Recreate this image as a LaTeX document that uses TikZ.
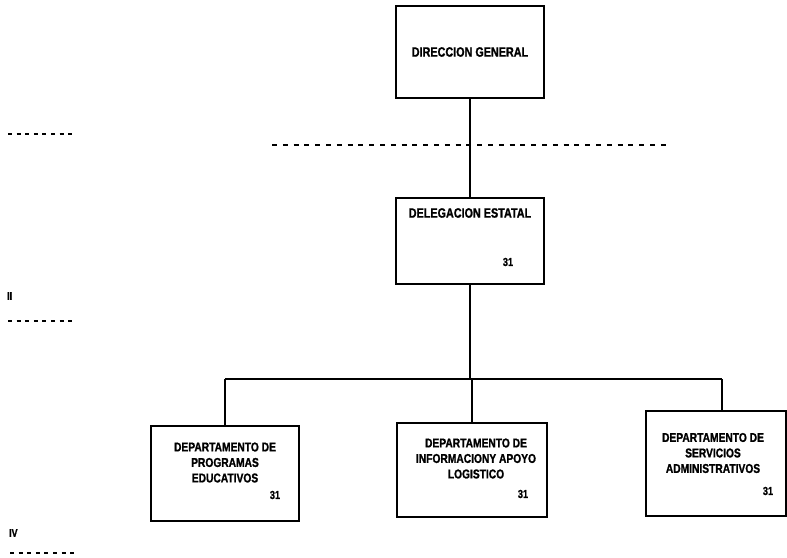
\documentclass[tikz,border=0pt]{standalone}
\usepackage{fontspec}
\setmainfont{Liberation Sans}[FakeStretch=0.8,BoldFeatures={FakeBold=1.2}]
\begin{document}
\begin{tikzpicture}[x=1pt,y=-1pt,
  box/.style={draw,line width=2pt,rectangle,inner sep=0pt},
  wire/.style={line width=2pt},
  lbl/.style={font=\bfseries\fontsize{12.8}{15.5}\selectfont,align=center,inner sep=0pt},
  head/.style={font=\bfseries\fontsize{13.5}{15}\selectfont,align=center,inner sep=0pt},
  num/.style={font=\bfseries\fontsize{11.5}{12}\selectfont,inner sep=0pt},
  level/.style={line width=2.8pt,dash pattern=on 4pt off 4.6pt},
  levelwide/.style={line width=2.6pt,dash pattern=on 5pt off 5.8pt},
  levelmark/.style={font=\bfseries\fontsize{11}{12}\selectfont,inner sep=0pt,anchor=west}]
\useasboundingbox[fill=white] (0,0) rectangle (787,557);

% level guides on the left margin
\coordinate (g1a) at (8,134);  \coordinate (g1b) at (74,134);
\coordinate (g2a) at (8,321);  \coordinate (g2b) at (76,321);
\coordinate (g3a) at (10,553); \coordinate (g3b) at (78,553);
\draw[level] (g1a) -- (g1b);
\draw[level] (g2a) -- (g2b);
\draw[level] (g3a) -- (g3b);
\node[levelmark] (m2) at (7,296) {II};
\node[levelmark] (m4) at (9,533) {IV};

% boxes
\node[box,minimum width=148pt,minimum height=92pt,head] (dg) at (470,52) {DIRECCION GENERAL};
\node[box,minimum width=148pt,minimum height=86pt] (de) at (470,241) {};
\node[head] (deT) at (470,213) {DELEGACION ESTATAL};
\node[num] (deN) at (508,262) {31};

\node[box,minimum width=148pt,minimum height=95pt] (lb) at (225,473.5) {};
\node[lbl] (lbT) at (225,462.5) {DEPARTAMENTO DE\\PROGRAMAS\\EDUCATIVOS};
\node[num] (lbN) at (275,495) {31};

\node[box,minimum width=150pt,minimum height=94pt] (mb) at (472,470) {};
\node[lbl] (mbT) at (476,458.5) {DEPARTAMENTO DE\\INFORMACIONY APOYO\\LOGISTICO};
\node[num] (mbN) at (523,494) {31};

\node[box,minimum width=140pt,minimum height=105pt] (rb) at (716,463.5) {};
\node[lbl] (rbT) at (713,453) {DEPARTAMENTO DE\\SERVICIOS\\ADMINISTRATIVOS};
\node[num] (rbN) at (768,491) {31};

% level line across the top connector
\coordinate (lvA) at (272,145); \coordinate (lvB) at (668,145);
\draw[levelwide] (lvA) -- (lvB);

% connectors
\coordinate (busL) at (225,379);
\coordinate (busR) at (722,379);
\draw[wire] (dg.south) -- (de.north);
\draw[wire] (de.south) -- (de.south |- busL);
\draw[wire] (busL) -- (busR);
\draw[wire] (busL) -- (lb.north);
\draw[wire] (mb.north |- busL) -- (mb.north);
\draw[wire] (busR) -- (busR |- rb.north);
\end{tikzpicture}
\end{document}
